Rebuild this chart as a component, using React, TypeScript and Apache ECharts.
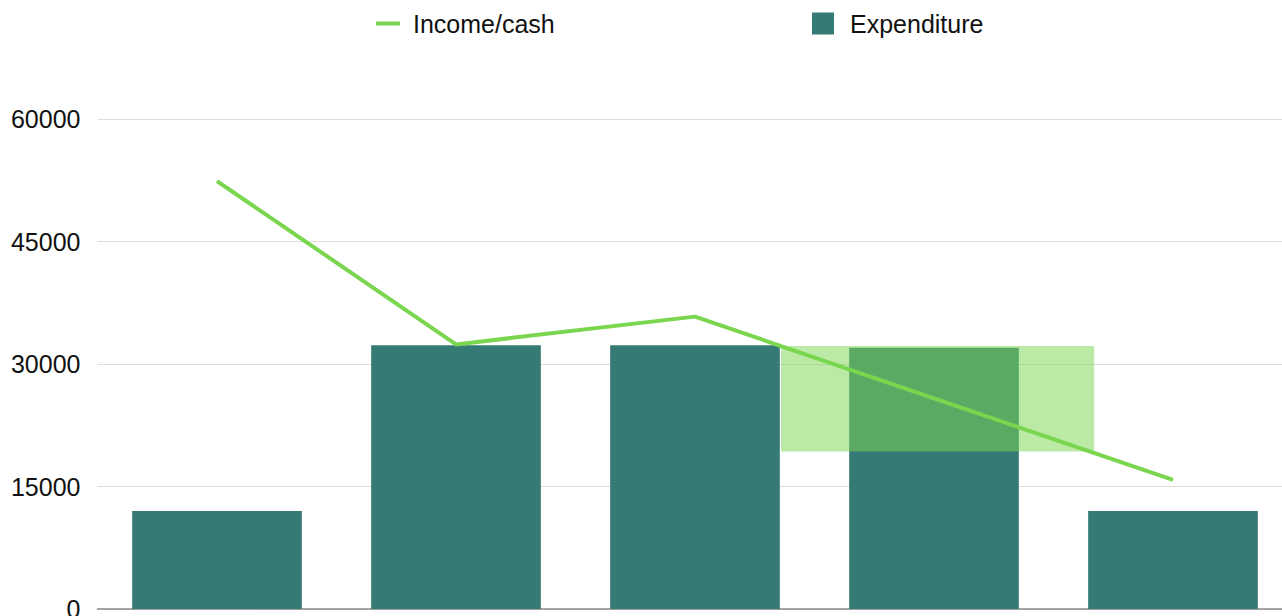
import React, { useEffect, useRef } from "react";
import * as echarts from "echarts";

const categories = ["1", "2", "3", "4", "5"];
const incomeCash = [52400, 32400, 35800, 25800, 15800];
const expenditure = [12000, 32300, 32300, 32000, 12000];
const yTicks = { min: 0, max: 60000, interval: 15000 };
// highlighted band: [x start, x end] in category units, [y low, y high] in values
const bandX = [2.86, 4.17];
const bandY = [19300, 32200];

const FONT = "'Liberation Sans', Arial, Helvetica, sans-serif";

export default function App() {
  const ref = useRef<HTMLDivElement>(null);
  useEffect(() => {
    if (!ref.current) return;
    const chart = echarts.init(ref.current, undefined, { renderer: "svg" });
    chart.setOption({
      animation: false,
      textStyle: { fontFamily: FONT },
      legend: [
        {
          data: [{ name: "Income/cash", icon: "path://M0,0H24V4H0Z" }],
          left: 371,
          top: 6,
          itemWidth: 24,
          itemHeight: 22,
          textStyle: { fontSize: 25, color: "#111", fontFamily: FONT, padding: [0, 0, 0, 8] },
        },
        {
          data: [{ name: "Expenditure", icon: "rect" }],
          left: 807,
          top: 6,
          itemWidth: 22,
          itemHeight: 22,
          textStyle: { fontSize: 25, color: "#111", fontFamily: FONT, padding: [0, 0, 0, 11] },
        },
      ],
      grid: { left: 97.5, right: 7.5, top: 119, bottom: 7, containLabel: false, outerBoundsMode: "none" },
      xAxis: [
        {
          type: "category",
          data: categories,
          axisLabel: { show: false },
          axisTick: { show: false },
          axisLine: { show: true, lineStyle: { color: "#8a8a8a", width: 1.5 } },
        },
        {
          type: "value",
          min: 0,
          max: categories.length,
          show: false,
        },
      ],
      yAxis: {
        type: "value",
        min: yTicks.min,
        max: yTicks.max,
        interval: yTicks.interval,
        axisLine: { show: false },
        axisTick: { show: false },
        axisLabel: { fontSize: 25, color: "#111", margin: 17, fontFamily: FONT, formatter: (v: number) => String(v) },
        splitLine: { lineStyle: { color: "#dcdcdc", width: 1 } },
      },
      series: [
        {
          name: "Expenditure",
          type: "bar",
          data: expenditure,
          barCategoryGap: "29%",
          itemStyle: { color: "#367a76" },
          z: 2,
        },
        {
          name: "band",
          type: "custom",
          xAxisIndex: 1,
          yAxisIndex: 0,
          z: 3,
          silent: true,
          data: [[bandX[0], bandX[1], bandY[0], bandY[1]]],
          encode: { x: [0, 1], y: [2, 3] },
          renderItem: (params: any, api: any) => {
            const p0 = api.coord([api.value(0), api.value(3)]);
            const p1 = api.coord([api.value(1), api.value(2)]);
            return {
              type: "rect",
              shape: { x: p0[0], y: p0[1], width: p1[0] - p0[0], height: p1[1] - p0[1] },
              style: { fill: "rgba(125, 214, 84, 0.52)" },
            };
          },
        },
        {
          name: "Income/cash",
          type: "line",
          data: incomeCash,
          symbol: "none",
          lineStyle: { color: "#7bd64f", width: 4 },
          itemStyle: { color: "#7bd64f" },
          z: 4,
        },
      ],
    });
    return () => chart.dispose();
  }, []);
  return (
    <div style={{ position: "fixed", left: 0, top: 0, width: 1282, height: 616, overflow: "hidden", background: "#fff" }}>
      <div ref={ref} style={{ position: "absolute", left: 0, top: 0, width: 1300, height: 616 }} />
    </div>
  );
}
